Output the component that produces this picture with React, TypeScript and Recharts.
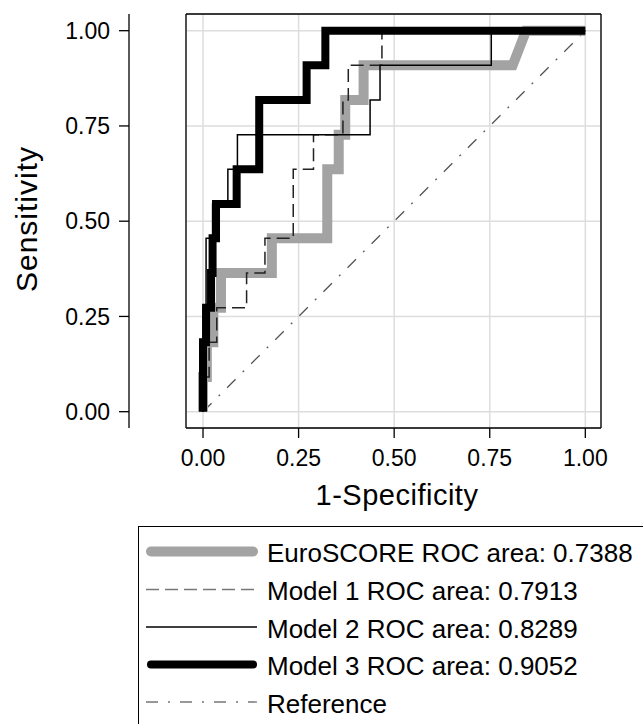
import { CartesianGrid, Label, Line, LineChart, XAxis, YAxis } from "recharts";

// axis ticks
const xTicks = [0, 0.25, 0.5, 0.75, 1];
const yTicks = [0, 0.25, 0.5, 0.75, 1];

// ROC curves: false positive rate (1-specificity) and sensitivity at every corner
const euroFpr = [0, 0, 0.01, 0.01, 0.027, 0.027, 0.047, 0.047, 0.18, 0.18, 0.325, 0.325, 0.355, 0.355, 0.372, 0.372, 0.42, 0.42, 0.81, 0.845, 1];
const euroTpr = [0, 0.091, 0.091, 0.182, 0.182, 0.273, 0.273, 0.364, 0.364, 0.455, 0.455, 0.636, 0.636, 0.727, 0.727, 0.818, 0.818, 0.909, 0.909, 1, 1];

const m1Fpr = [0, 0, 0.016, 0.016, 0.036, 0.036, 0.114, 0.114, 0.162, 0.162, 0.236, 0.236, 0.289, 0.289, 0.366, 0.366, 0.38, 0.38, 0.468, 0.468, 1];
const m1Tpr = [0, 0.091, 0.091, 0.182, 0.182, 0.273, 0.273, 0.364, 0.364, 0.455, 0.455, 0.636, 0.636, 0.727, 0.727, 0.818, 0.818, 0.909, 0.909, 1, 1];

const m2Fpr = [0, 0, 0.008, 0.008, 0.025, 0.025, 0.065, 0.065, 0.09, 0.09, 0.437, 0.437, 0.463, 0.463, 0.754, 0.754, 1];
const m2Tpr = [0, 0.273, 0.273, 0.455, 0.455, 0.545, 0.545, 0.636, 0.636, 0.727, 0.727, 0.818, 0.818, 0.909, 0.909, 1, 1];

const m3Fpr = [0, 0, 0.008, 0.008, 0.021, 0.021, 0.025, 0.025, 0.034, 0.034, 0.088, 0.088, 0.147, 0.147, 0.271, 0.271, 0.32, 0.32, 1];
const m3Tpr = [0, 0.182, 0.182, 0.273, 0.273, 0.364, 0.364, 0.455, 0.455, 0.545, 0.545, 0.636, 0.636, 0.818, 0.818, 0.909, 0.909, 1, 1];

const refFpr = [0, 1];
const refTpr = [0, 1];

const legendLabels = [
  "EuroSCORE ROC area: 0.7388",
  "Model 1 ROC area: 0.7913",
  "Model 2 ROC area: 0.8289",
  "Model 3 ROC area: 0.9052",
  "Reference",
];

const X_DOMAIN = [-0.0445, 1.041];
const Y_DOMAIN = [-0.0428, 1.0438];

const toPoints = (fpr: number[], tpr: number[]) => fpr.map((x, i) => ({ x, y: tpr[i] }));

const series = [
  { key: "euro", data: toPoints(euroFpr, euroTpr), stroke: "#a3a3a3", width: 10, dash: undefined, cap: "round" as const },
  { key: "m1", data: toPoints(m1Fpr, m1Tpr), stroke: "#222", width: 1.5, dash: "13 6", cap: "butt" as const },
  { key: "m2", data: toPoints(m2Fpr, m2Tpr), stroke: "#000", width: 1.5, dash: undefined, cap: "butt" as const },
  { key: "m3", data: toPoints(m3Fpr, m3Tpr), stroke: "#000", width: 8, dash: undefined, cap: "round" as const },
  { key: "ref", data: toPoints(refFpr, refTpr), stroke: "#555", width: 1.3, dash: "12 10 2 10", cap: "butt" as const },
];
// legend lists euro, m1, m2, m3, ref; draw the reference first
const drawOrder = ["ref", "euro", "m1", "m2", "m3"];

const fmt = (v: number) => v.toFixed(2);

function Legend() {
  const rows = [26, 64, 101.5, 139, 176.5];
  return (
    <div
      style={{
        position: "absolute",
        left: 138,
        top: 526,
        width: 620,
        height: 260,
        border: "1.5px solid #000",
        boxSizing: "border-box",
        background: "#fff",
      }}
    >
      <svg width={620} height={260}>
        {series.map((s, i) => (
          <g key={s.key}>
            <line
              x1={s.width > 5 ? 12 : 7}
              x2={s.width > 5 ? 114 : 118}
              y1={rows[i] - 1.5}
              y2={rows[i] - 1.5}
              stroke={s.key === "m1" || s.key === "ref" ? "#777" : s.stroke}
              strokeWidth={s.width}
              strokeDasharray={s.dash}
              strokeLinecap={s.cap}
            />
            <text x={128} y={rows[i]} fontSize={26} fill="#000" dominantBaseline="central">
              {legendLabels[i]}
            </text>
          </g>
        ))}
      </svg>
    </div>
  );
}

export default function App() {
  return (
    <div
      style={{
        position: "fixed",
        left: 0,
        top: 0,
        width: 643,
        height: 724,
        overflow: "hidden",
        background: "#fff",
        fontFamily: '"Liberation Sans", Arial, sans-serif',
      }}
    >
      <LineChart width={643} height={520} margin={{ top: 13, right: 41, bottom: 0, left: 0 }}>
        <CartesianGrid stroke="#dddddd" strokeWidth={1.5} xAxisId="x" yAxisId="b" />
        <XAxis
          xAxisId="x"
          type="number"
          dataKey="x"
          domain={X_DOMAIN}
          ticks={xTicks}
          interval={0}
          allowDataOverflow
          tickFormatter={fmt}
          height={92}
          tickSize={10}
          tickMargin={12}
          stroke="#000"
          strokeWidth={1.3}
          tick={{ fill: "#000", fontSize: 23 }}
        >
          <Label
            content={() => (
              <text x={397} y={505} textAnchor="middle" fontSize={29} letterSpacing={0.5} fill="#000">
                1-Specificity
              </text>
            )}
          />
        </XAxis>
        <XAxis xAxisId="top" orientation="top" type="number" domain={X_DOMAIN} height={1} tick={false} tickLine={false} stroke="#000" strokeWidth={1.3} />
        {/* axis "a" sits against the plot box, axis "b" carries the ticks further left */}
        <YAxis
          yAxisId="a"
          type="number"
          domain={Y_DOMAIN}
          ticks={yTicks}
          allowDataOverflow
          width={57}
          tick={false}
          tickLine={false}
          stroke="#000"
          strokeWidth={1.3}
        />
        <YAxis
          yAxisId="b"
          type="number"
          domain={Y_DOMAIN}
          ticks={yTicks}
          interval={0}
          allowDataOverflow
          width={129}
          tickFormatter={fmt}
          tickSize={10}
          tickMargin={9}
          stroke="#000"
          strokeWidth={1.3}
          tick={{ fill: "#000", fontSize: 23 }}
        >
          <Label
            content={() => (
              <text
                x={26}
                y={219}
                transform="rotate(-90 26 219)"
                textAnchor="middle"
                dominantBaseline="central"
                fontSize={30}
                letterSpacing={1}
                fill="#000"
              >
                Sensitivity
              </text>
            )}
          />
        </YAxis>
        <YAxis yAxisId="r" orientation="right" type="number" domain={Y_DOMAIN} width={1} tick={false} tickLine={false} stroke="#000" strokeWidth={1.3} />
        {drawOrder.map((k) => {
          const s = series.find((d) => d.key === k)!;
          return (
            <Line
              key={s.key}
              xAxisId="x"
              yAxisId="a"
              data={s.data}
              dataKey="y"
              type="linear"
              stroke={s.stroke}
              strokeWidth={s.width}
              strokeDasharray={s.dash}
              dot={false}
              activeDot={false}
              isAnimationActive={false}
            />
          );
        })}
      </LineChart>
      <Legend />
    </div>
  );
}
